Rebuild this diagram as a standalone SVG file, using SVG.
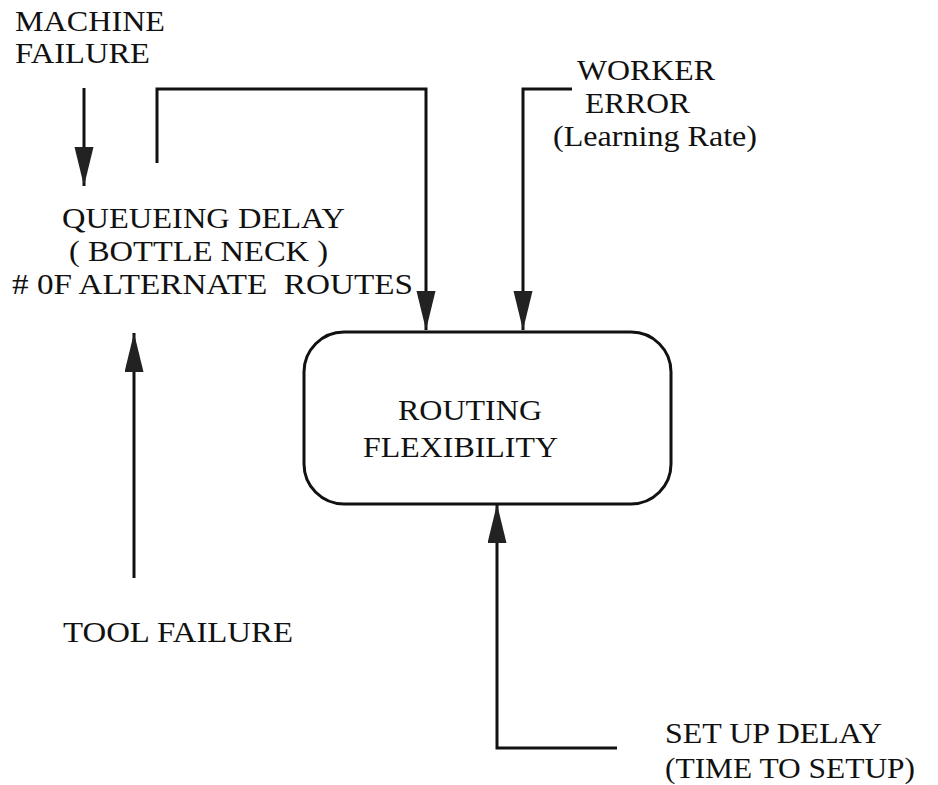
<svg xmlns="http://www.w3.org/2000/svg" width="938" height="785" viewBox="0 0 938 785">
<style>
.ln{fill:none;stroke:#111;stroke-width:3}
.box{fill:#fff;stroke:#111;stroke-width:3}
.t{font-family:"Liberation Serif","Times New Roman",serif;font-size:30px;fill:#111}
</style>
<defs>
<marker id="ah" markerUnits="userSpaceOnUse" markerWidth="40" markerHeight="20" refX="39" refY="9.5" orient="auto" viewBox="0 0 40 20">
<path d="M0,0 L39,9.5 L0,19 z" fill="#222"/>
</marker>
</defs>
<rect width="938" height="785" fill="#fff"/>
<g id="connectors">
<line class="ln" x1="84" y1="88" x2="84" y2="186" marker-end="url(#ah)"/>
<polyline class="ln" points="157,163 157,89 426,89 426,330" marker-end="url(#ah)"/>
<polyline class="ln" points="572,89 523,89 523,330" marker-end="url(#ah)"/>
<line class="ln" x1="134" y1="578" x2="134" y2="333" marker-end="url(#ah)"/>
<polyline class="ln" points="617,748 497,748 497,504" marker-end="url(#ah)"/>
</g>
<g id="machine-failure">
<text class="t" x="15" y="31" textLength="150" lengthAdjust="spacingAndGlyphs">MACHINE</text>
<text class="t" x="15" y="63" textLength="135" lengthAdjust="spacingAndGlyphs">FAILURE</text>
</g>
<g id="queueing-delay">
<text class="t" x="62" y="228" textLength="283" lengthAdjust="spacingAndGlyphs">QUEUEING DELAY</text>
<text class="t" x="69" y="261" textLength="259" lengthAdjust="spacingAndGlyphs" xml:space="preserve">( BOTTLE NECK )</text>
<text class="t" x="12" y="294" textLength="401" lengthAdjust="spacingAndGlyphs" xml:space="preserve"># 0F ALTERNATE  ROUTES</text>
</g>
<g id="worker-error">
<text class="t" x="577" y="80" textLength="138" lengthAdjust="spacingAndGlyphs">WORKER</text>
<text class="t" x="585" y="113" textLength="105" lengthAdjust="spacingAndGlyphs">ERROR</text>
<text class="t" x="553" y="146" textLength="204" lengthAdjust="spacingAndGlyphs">(Learning Rate)</text>
</g>
<g id="routing-flexibility">
<rect class="box" x="304" y="332" width="367" height="172" rx="40" ry="40"/>
<text class="t" x="398" y="420" textLength="144" lengthAdjust="spacingAndGlyphs">ROUTING</text>
<text class="t" x="363" y="457" textLength="195" lengthAdjust="spacingAndGlyphs">FLEXIBILITY</text>
</g>
<g id="tool-failure">
<text class="t" x="63" y="642" textLength="230" lengthAdjust="spacingAndGlyphs">TOOL FAILURE</text>
</g>
<g id="setup-delay">
<text class="t" x="665" y="743" textLength="217" lengthAdjust="spacingAndGlyphs">SET UP DELAY</text>
<text class="t" x="665" y="778" textLength="250" lengthAdjust="spacingAndGlyphs">(TIME TO SETUP)</text>
</g>
</svg>
